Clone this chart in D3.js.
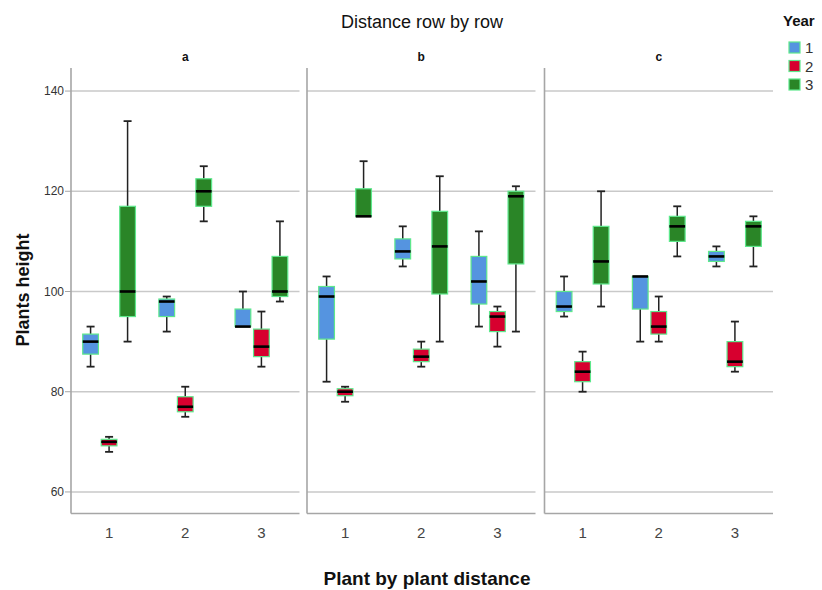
<!DOCTYPE html>
<html><head><meta charset="utf-8">
<script src="https://cdn.jsdelivr.net/npm/d3@7"></script>
<style>body{margin:0;background:#fff}svg{display:block}text{font-family:"Liberation Sans",Arial,sans-serif}</style>
</head><body>
<script>
const panels = ["a","b","c"];
const distances = ["1","2","3"];
const years = ["1","2","3"];
const yTicks = [60,80,100,120,140];
// five-number summaries [min, q1, median, q3, max] per panel -> distance -> year
const panelA = [
  [[85,87.5,90,91.5,93],[68,69.2,70,70.5,71],[90,95,100,117,134]],
  [[92,95,98,98.5,99],[75,76,77,79,81],[114,117,120,122.5,125]],
  [[93,93,93,96.5,100],[85,87,89,92.5,96],[98,99,100,107,114]]
];
const panelB = [
  [[82,90.5,99,101,103],[78,79.2,80,80.6,81],[115,115,115,120.5,126]],
  [[105,106.5,108,110.5,113],[85,86,87,88.5,90],[90,99.5,109,116,123]],
  [[93,97.5,102,107,112],[89,92,95,96,97],[92,105.5,119,120,121]]
];
const panelC = [
  [[95,96,97,100,103],[80,82,84,86,88],[97,101.5,106,113,120]],
  [[90,96.5,103,103,103],[90,91.5,93,96,99],[107,110,113,115,117]],
  [[105,106,107,108,109],[84,85,86,90,94],[105,109,113,114,115]]
];
const panelData = [panelA, panelB, panelC];
const yearColors = ["#5594e0","#d7002f","#2a8527"];

(function(){
const W = 822, H = 590;
const svg = d3.select("body").append("svg").attr("width", W).attr("height", H);
const plotTop = 68, plotBottom = 513.5;
const y = d3.scaleLinear().domain([55.7, 144.6]).range([plotBottom, plotTop]);
const panelLeft = {a:71, b:307, c:544.5};
const panelW = 228.5;

svg.append("text").attr("x", 422).attr("y", 28).attr("text-anchor","middle")
  .attr("font-size", 18).attr("fill","#111").text("Distance row by row");

panels.forEach((p, pi) => {
  const L = panelLeft[p];
  const g = svg.append("g");
  const x = d3.scaleBand().domain(distances).range([L, L + panelW]);
  const xy = d3.scaleBand().domain(years).range([-27.75, 27.75]);
  g.selectAll("line.grid").data(yTicks).join("line")
    .attr("x1", L).attr("x2", L + panelW)
    .attr("y1", d => y(d)).attr("y2", d => y(d))
    .attr("stroke", "#c9c9c9").attr("stroke-width", 1.6);
  g.append("line").attr("x1", L).attr("x2", L).attr("y1", plotTop).attr("y2", plotBottom)
    .attr("stroke", "#a6a6a6").attr("stroke-width", 1.6);
  g.append("line").attr("x1", L).attr("x2", L + panelW).attr("y1", plotBottom).attr("y2", plotBottom)
    .attr("stroke", "#a6a6a6").attr("stroke-width", 1.6);
  svg.append("text").attr("x", L + panelW/2).attr("y", 61).attr("text-anchor","middle")
    .attr("font-size", 12).attr("font-weight","bold").attr("fill","#111").text(p);
  g.selectAll("text.xt").data(distances).join("text")
    .attr("x", d => x(d) + x.bandwidth()/2).attr("y", 538)
    .attr("text-anchor","middle").attr("font-size", 15).attr("fill","#444").text(d => d);
  const bw = xy.bandwidth() * 0.85;
  distances.forEach((dist, di) => {
    years.forEach((yr, yi) => {
      const s = panelData[pi][di][yi];
      const cx = x(dist) + x.bandwidth()/2 + xy(yr) + xy.bandwidth()/2;
      const bg = g.append("g");
      bg.append("line").attr("x1", cx).attr("x2", cx).attr("y1", y(s[0])).attr("y2", y(s[1]))
        .attr("stroke","#222").attr("stroke-width",1.5);
      bg.append("line").attr("x1", cx).attr("x2", cx).attr("y1", y(s[3])).attr("y2", y(s[4]))
        .attr("stroke","#222").attr("stroke-width",1.5);
      [s[0], s[4]].forEach((v, k) => {
        if (k === 0 && v === s[1]) return;
        if (k === 1 && v === s[3]) return;
        bg.append("line").attr("x1", cx - 4).attr("x2", cx + 4).attr("y1", y(v)).attr("y2", y(v))
          .attr("stroke","#222").attr("stroke-width",1.8);
      });
      bg.append("rect").attr("x", cx - bw/2).attr("y", y(s[3]))
        .attr("width", bw).attr("height", Math.max(1, y(s[1]) - y(s[3])))
        .attr("fill", yearColors[yi]).attr("stroke", "#5ee88c").attr("stroke-width", 1.2);
      bg.append("line").attr("x1", cx - bw/2).attr("x2", cx + bw/2).attr("y1", y(s[2])).attr("y2", y(s[2]))
        .attr("stroke","#000").attr("stroke-width",2.6);
    });
  });
  if (pi === 0) {
    g.selectAll("line.tk").data(yTicks).join("line")
      .attr("x1", L - 6).attr("x2", L).attr("y1", d => y(d)).attr("y2", d => y(d))
      .attr("stroke","#a6a6a6").attr("stroke-width",1);
    g.selectAll("text.yt").data(yTicks).join("text")
      .attr("x", L - 7).attr("y", d => y(d) + 4).attr("text-anchor","end")
      .attr("font-size", 12).attr("fill","#333").text(d => d);
  }
});

svg.append("text").attr("transform","translate(29,290) rotate(-90)").attr("text-anchor","middle")
  .attr("font-size", 18).attr("font-weight","bold").attr("fill","#111").text("Plants height");
svg.append("text").attr("x", 427).attr("y", 585).attr("text-anchor","middle")
  .attr("font-size", 19).attr("font-weight","bold").attr("fill","#111").text("Plant by plant distance");

svg.append("text").attr("x", 783).attr("y", 26).attr("font-size", 15).attr("font-weight","bold")
  .attr("fill","#111").text("Year");
const lg = svg.selectAll("g.lg").data(years).join("g")
  .attr("transform", (d,i) => `translate(789,${42 + i*18.5})`);
lg.append("rect").attr("width", 11).attr("height", 11)
  .attr("fill", (d,i) => yearColors[i]).attr("stroke","#5ee88c").attr("stroke-width",1.2);
lg.append("text").attr("x", 16).attr("y", 11).attr("font-size", 15).attr("fill","#333").text(d => d);
})();
</script>
</body></html>
